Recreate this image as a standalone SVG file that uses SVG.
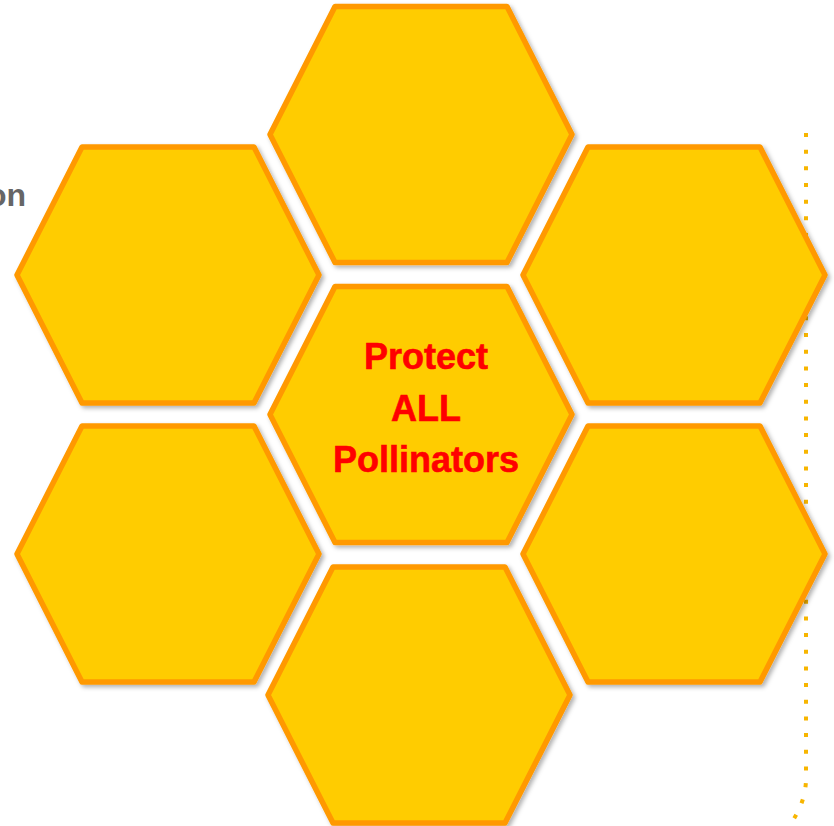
<svg xmlns="http://www.w3.org/2000/svg" xmlns:xlink="http://www.w3.org/1999/xlink" width="834" height="826" viewBox="0 0 834 826">
  <style>
    .hex { fill: #FFCC00; stroke: #FF9900; stroke-width: 5.5; stroke-linejoin: round; filter: url(#shadow); }
    .label { font-family: "Liberation Sans", Arial, sans-serif; font-weight: bold; font-size: 36px; fill: #FF0000; stroke: #FF0000; stroke-width: 0.6; text-anchor: middle; }
    .side { font-family: "Liberation Sans", Arial, sans-serif; font-weight: bold; font-size: 32px; fill: #666666; text-anchor: end; }
    .dots { fill: none; stroke: #F7B500; stroke-width: 4; stroke-dasharray: 4 12.67; }
  </style>
  <defs>
    <filter id="shadow" x="-10%" y="-10%" width="125%" height="125%">
      <feDropShadow dx="2.5" dy="2.5" stdDeviation="2" flood-color="#000000" flood-opacity="0.3"/>
    </filter>
    <polygon id="hexShape" points="-86,-128 86,-128 151,0 86,128 -86,128 -151,0"/>
  </defs>

  <g id="connectors">
    <path class="dots" d="M806,133 V778 C806,796 800,812 786,830"/>
  </g>

  <text class="side" x="26" y="206">on</text>

  <g id="hex-top"><use xlink:href="#hexShape" class="hex" transform="translate(421,134.5)"/></g>
  <g id="hex-upper-left"><use xlink:href="#hexShape" class="hex" transform="translate(168,275)"/></g>
  <g id="hex-upper-right"><use xlink:href="#hexShape" class="hex" transform="translate(674,275)"/></g>
  <g id="hex-center">
    <use xlink:href="#hexShape" class="hex" transform="translate(421,414.5)"/>
    <text class="label" x="426" y="369">Protect</text>
    <text class="label" x="426" y="421">ALL</text>
    <text class="label" x="426" y="472">Pollinators</text>
  </g>
  <g id="hex-lower-left"><use xlink:href="#hexShape" class="hex" transform="translate(168,554)"/></g>
  <g id="hex-lower-right"><use xlink:href="#hexShape" class="hex" transform="translate(674,554)"/></g>
  <g id="hex-bottom"><use xlink:href="#hexShape" class="hex" transform="translate(419,695)"/></g>
</svg>
